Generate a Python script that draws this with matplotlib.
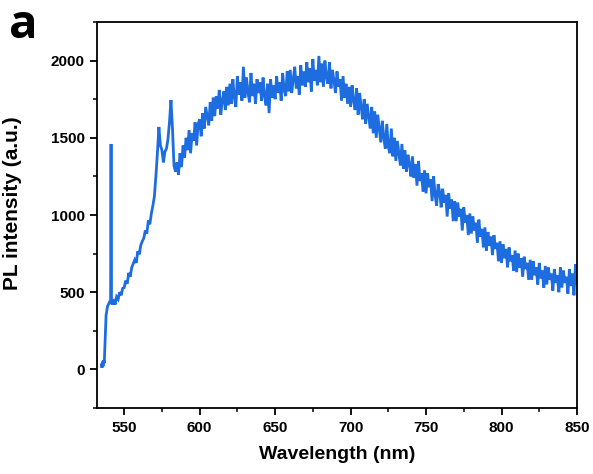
import numpy as np
import matplotlib.pyplot as plt
from matplotlib.ticker import MultipleLocator

# early part of the spectrum (onset + laser line), read point by point
wl_start = [535.0, 535.3, 535.6, 536.0, 536.4, 536.8, 537.2, 537.6, 538.0, 538.5,
            539.0, 539.5, 540.0, 540.5, 541.0, 541.3, 541.6, 542.0, 542.5]
pl_start = [30, 10, 50, 20, 60, 40, 150, 280, 350, 380,
            410, 420, 430, 440, 450, 1460, 440, 420, 440]

# main band, 1 nm steps from 543 to 850 nm
wl_first, wl_last = 543, 850
pl_main = [
    445, 420, 470, 455, 500, 480, 525,
    530, 575, 555, 625, 600, 660, 685, 710, 690, 765,
    745, 805, 830, 850, 900, 880, 965, 940, 1010, 1060,
    1120, 1250, 1400, 1570, 1450, 1420, 1340, 1410, 1430, 1490,
    1600, 1745, 1560, 1320, 1280,
    1340, 1260, 1400, 1310, 1450,
    1370, 1500, 1420, 1550, 1400, 1530, 1480, 1600, 1450, 1590,
    1620, 1510, 1660, 1560, 1700, 1640, 1580, 1730, 1610, 1760,
    1640, 1770, 1690, 1810, 1650, 1740, 1800, 1680, 1830, 1710,
    1850, 1720, 1880, 1760, 1700, 1900, 1780, 1860, 1740, 1960,
    1760, 1890, 1800, 1730, 1920, 1770, 1850, 1720, 1880, 1790,
    1860, 1740, 1890, 1770, 1710, 1850, 1660, 1880, 1760, 1840,
    1750, 1900, 1790, 1860, 1740, 1920, 1810, 1770, 1930, 1800,
    1940, 1790, 1880, 1960, 1820, 1900, 1780, 1970, 1840, 1930,
    1830, 1990, 1860, 1950, 1800, 2010, 1870, 1940, 1840, 2030,
    1860, 1980, 1830, 2000, 1890, 1850, 1990, 1820, 1940, 1870,
    1790, 1930, 1830, 1880, 1740, 1900, 1760, 1850, 1720, 1830,
    1700, 1840, 1740, 1680, 1820, 1650, 1790, 1700, 1620, 1750,
    1590, 1720, 1640, 1560, 1700, 1530, 1670, 1500, 1650, 1560,
    1470, 1610, 1500, 1430, 1590, 1440, 1400, 1560, 1380, 1500,
    1350, 1480, 1400, 1320, 1460, 1300, 1420, 1280, 1390, 1330,
    1250, 1380, 1240, 1330, 1190, 1350, 1220, 1270, 1150, 1290,
    1140, 1270, 1180, 1230, 1090, 1250, 1130, 1060, 1200, 1150,
    1050, 1170, 1080, 1130, 990, 1140, 1040, 1100, 960, 1090,
    960, 1080, 990, 1040, 900, 1050, 950, 1000, 870, 1010,
    880, 990, 900, 950, 820, 970, 860, 910, 790, 920,
    770, 890, 800, 860, 740, 870, 780, 820, 700, 830,
    690, 810, 720, 780, 660, 790, 700, 740, 640, 770,
    630, 750, 660, 720, 600, 730, 650, 690, 580, 710,
    580, 700, 610, 660, 550, 690, 590, 640, 530, 670,
    550, 660, 580, 620, 510, 650, 560, 610, 500, 660,
    530, 640, 560, 600, 490, 650, 540, 620, 480, 680, 560,
]

x_ticks = [550, 600, 650, 700, 750, 800, 850]
y_ticks = [0, 500, 1000, 1500, 2000]

wl = np.concatenate([wl_start, np.arange(wl_first, wl_last + 1)])
pl = np.concatenate([pl_start, pl_main])

plt.rcParams['font.family'] = ['Liberation Sans', 'DejaVu Sans']

fig = plt.figure(figsize=(5.93, 4.74), dpi=100)
ax = fig.add_axes([0.1636, 0.1392, 0.8094, 0.8144])

ax.plot(wl, pl, color='#1d6de0', lw=2.0, solid_joinstyle='miter')

ax.set_xlim(532, 850)
ax.set_ylim(-250, 2250)
ax.set_xticks(x_ticks)
ax.set_yticks(y_ticks)
ax.xaxis.set_minor_locator(MultipleLocator(25))
ax.yaxis.set_minor_locator(MultipleLocator(250))

for s in ax.spines.values():
    s.set_linewidth(1.3)
ax.tick_params(which='major', direction='out', length=5, width=1.3,
               labelsize=11, pad=4)
ax.tick_params(which='minor', direction='out', length=3, width=1.1)
for lab in ax.get_xticklabels() + ax.get_yticklabels():
    lab.set_fontweight('bold')

ax.set_xlabel('Wavelength (nm)', fontsize=14, fontweight='bold', labelpad=8)
ax.set_ylabel('PL intensity (a.u.)', fontsize=15, fontweight='bold')
ax.yaxis.set_label_coords(-0.156, 0.531)

fig.text(0.016, 0.995, 'a', fontsize=34, fontweight='bold', family='Open Sans',
         va='top', ha='left')

fig.savefig('out.png', dpi=100)
